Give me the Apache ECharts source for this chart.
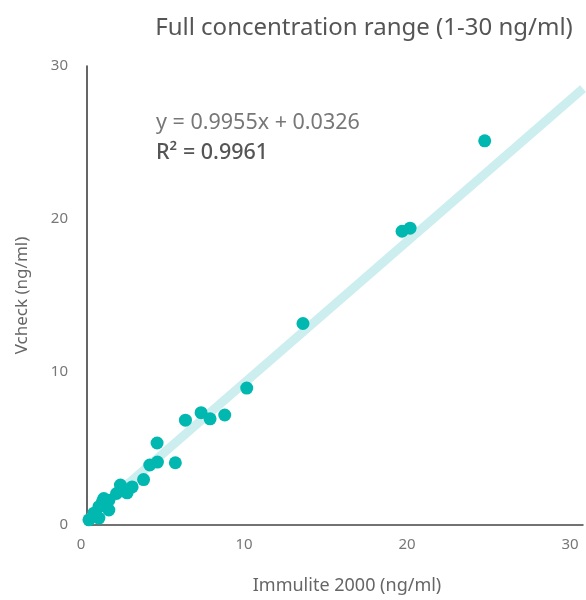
<!DOCTYPE html>
<html>
<head>
<meta charset="utf-8">
<script src="https://cdn.jsdelivr.net/npm/echarts@6/dist/echarts.min.js"></script>
<style>html,body{margin:0;padding:0;background:#fff}#c{width:586px;height:600px}</style>
</head>
<body>
<div id="c"></div>
<script>
// Immulite 2000 values (x) and Vcheck values (y)
var immulite = [24.40, 19.33, 19.82, 13.25, 9.80, 8.45, 7.55, 7.00, 6.04, 4.30, 4.32, 3.85, 5.42, 3.47, 2.77, 2.05, 2.46, 1.81, 1.34, 1.03, 0.94, 0.73, 1.34, 0.42, 0.73, 0.12];
var vcheck   = [25.11, 19.20, 19.40, 13.17, 8.95, 7.19, 6.94, 7.34, 6.85, 5.36, 4.11, 3.92, 4.07, 2.97, 2.49, 2.61, 2.10, 2.06, 1.62, 1.73, 1.52, 1.20, 0.98, 0.77, 0.45, 0.34];
// Trend line end points as drawn in the picture
var trendX = [0.1, 30.43];
var trendY = [0.45, 28.52];
var xTicks = [0, 10, 20, 30];
var yTicks = [0, 10, 20, 30];
var titleText = 'Full concentration range (1-30 ng/ml)';
var eqText = 'y = 0.9955x + 0.0326';
var r2Text = 'R\u00B2 = 0.9961';

var points = immulite.map(function (x, i) { return [x, vcheck[i]]; });
var trend = trendX.map(function (x, i) { return [x, trendY[i]]; });
var FONT = 'Noto Sans';

var chart = echarts.init(document.getElementById('c'));
chart.setOption({
  animation: false,
  textStyle: { fontFamily: FONT },
  title: {
    text: titleText,
    left: 359, top: 11, textAlign: 'center',
    textStyle: { fontFamily: FONT, fontSize: 24, fontWeight: 'normal', color: '#555' }
  },
  grid: { left: 87, right: 0, top: 66, bottom: 68, containLabel: false },
  xAxis: {
    type: 'value', min: 0, max: 30.43, interval: 10,
    name: 'Immulite 2000 (ng/ml)', nameLocation: 'middle', nameGap: 52,
    nameTextStyle: { fontFamily: FONT, fontSize: 18, color: '#666', padding: [0, 0, 0, 24] },
    axisLine: { show: true, lineStyle: { color: '#444', width: 1.5 } },
    axisTick: { show: false },
    splitLine: { show: false },
    axisLabel: {
      margin: 12, fontSize: 15, color: '#777', fontFamily: FONT, padding: [0, 12, 0, 0],
      showMaxLabel: true,
      formatter: function (v) { return xTicks.indexOf(v) >= 0 ? String(v) : ''; }
    }
  },
  yAxis: {
    type: 'value', min: 0, max: 30, interval: 10,
    name: 'Vcheck (ng/ml)', nameLocation: 'middle', nameGap: 56, nameRotate: 90,
    nameTextStyle: { fontFamily: FONT, fontSize: 17, color: '#666' },
    axisLine: { show: true, lineStyle: { color: '#333', width: 1.5 } },
    axisTick: { show: false },
    splitLine: { show: false },
    axisLabel: {
      margin: 19, fontSize: 15, color: '#777', fontFamily: FONT,
      formatter: function (v) { return yTicks.indexOf(v) >= 0 ? String(v) : ''; }
    }
  },
  graphic: [
    { type: 'text', left: 156, top: 112, style: { text: eqText, font: '21.5px "Noto Sans"', fill: '#777' } },
    { type: 'text', left: 156, top: 142, style: { text: r2Text, font: '500 21.5px "Noto Sans"', fill: '#555' } }
  ],
  series: [
    {
      type: 'line', data: trend, symbol: 'none', z: 1, clip: true,
      lineStyle: { color: '#cdeeee', width: 9 }
    },
    {
      type: 'scatter', data: points, symbolSize: 13, z: 3,
      itemStyle: { color: '#00b8b0', opacity: 1 }
    }
  ]
});
</script>
</body>
</html>
